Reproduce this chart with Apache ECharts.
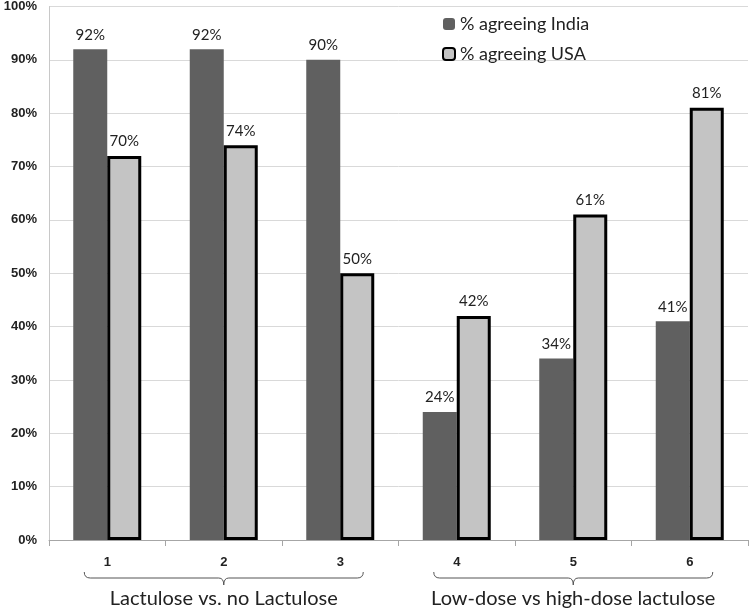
<!DOCTYPE html>
<html><head><meta charset="utf-8">
<script src="https://cdn.jsdelivr.net/npm/echarts@6/dist/echarts.min.js"></script>
<style>html,body{margin:0;padding:0;background:#fff}#c{width:750px;height:610px}</style>
</head><body><div id="c"></div>
<script>
const categories = ['1','2','3','4','5','6'];
const indiaValues = [92, 92, 90, 24, 34, 41];
const indiaLabels = ['92%','92%','90%','24%','34%','41%'];
const usaValues = [72, 74, 50, 42, 61, 81];
const usaLabels = ['70%','74%','50%','42%','61%','81%'];
const yTicks = [0,10,20,30,40,50,60,70,80,90,100];
const groups = [
  {name:'Lactulose vs. no Lactulose', from:0, to:2},
  {name:'Low-dose vs high-dose lactulose', from:3, to:5}
];

const chart = echarts.init(document.getElementById('c'), null, {renderer:'canvas'});
const labelFont = {fontFamily:'Lato', fontSize:15, color:'#222'};
chart.setOption({
  animation:false,
  grid:{left:49, right:2, top:6, bottom:70},
  legend:{
    orient:'vertical', left:437, top:10, itemGap:12,
    itemWidth:12, itemHeight:12,
    textStyle:{fontFamily:'Lato', fontSize:18, color:'#222'},
    data:['% agreeing India','% agreeing USA']
  },
  xAxis:{
    type:'category', data:categories, boundaryGap:true,
    axisLine:{lineStyle:{color:'#a6a6a6'}},
    axisTick:{show:true, length:6, lineStyle:{color:'#a6a6a6'}},
    axisLabel:{fontFamily:'Liberation Sans', fontWeight:'bold', fontSize:13, color:'#222', margin:16}
  },
  yAxis:{
    type:'value', min:0, max:100, interval:10,
    axisLine:{show:true, lineStyle:{color:'#c8c8c8'}},
    axisTick:{show:false},
    splitLine:{lineStyle:{color:'#d9d9d9'}},
    axisLabel:{fontFamily:'Liberation Sans', fontWeight:'bold', fontSize:13, color:'#222', margin:12,
      formatter:v=> yTicks.includes(v) ? v + '%' : ''}
  },
  series:[
    {name:'% agreeing India', type:'bar', data:indiaValues, barWidth:34, barGap:'0%',
     itemStyle:{color:'#606060'},
     label:{show:true, position:'top', distance:7, ...labelFont, formatter:p=>indiaLabels[p.dataIndex]}},
    {name:'% agreeing USA', type:'bar', data:usaValues, barWidth:34,
     itemStyle:{color:'#c4c4c4', borderColor:'#000', borderWidth:3},
     label:{show:true, position:'top', distance:7, ...labelFont, formatter:p=>usaLabels[p.dataIndex]}}
  ]
});

const yLine = 578;
const elements = [];
const st = {fill:null, stroke:'#555', lineWidth:1};
groups.forEach(g=>{
  const x1 = chart.convertToPixel({xAxisIndex:0}, g.from) - 23;
  const x2 = chart.convertToPixel({xAxisIndex:0}, g.to) + 23;
  const xm = (x1 + x2) / 2;
  elements.push({type:'bezierCurve', shape:{x1:x1, y1:yLine-6, x2:x1+6, y2:yLine, cpx1:x1, cpy1:yLine}, style:st});
  elements.push({type:'line', shape:{x1:x1+6, y1:yLine, x2:xm-5, y2:yLine}, style:st});
  elements.push({type:'bezierCurve', shape:{x1:xm-5, y1:yLine, x2:xm, y2:yLine+7, cpx1:xm, cpy1:yLine}, style:st});
  elements.push({type:'bezierCurve', shape:{x1:xm+5, y1:yLine, x2:xm, y2:yLine+7, cpx1:xm, cpy1:yLine}, style:st});
  elements.push({type:'line', shape:{x1:xm+5, y1:yLine, x2:x2-6, y2:yLine}, style:st});
  elements.push({type:'bezierCurve', shape:{x1:x2, y1:yLine-6, x2:x2-6, y2:yLine, cpx1:x2, cpy1:yLine}, style:st});
  elements.push({type:'text', x:xm, y:599, style:{text:g.name, fontFamily:'Lato', fontSize:20, fill:'#222', align:'center', verticalAlign:'middle'}});
});
chart.setOption({graphic:{elements}});
</script></body></html>
